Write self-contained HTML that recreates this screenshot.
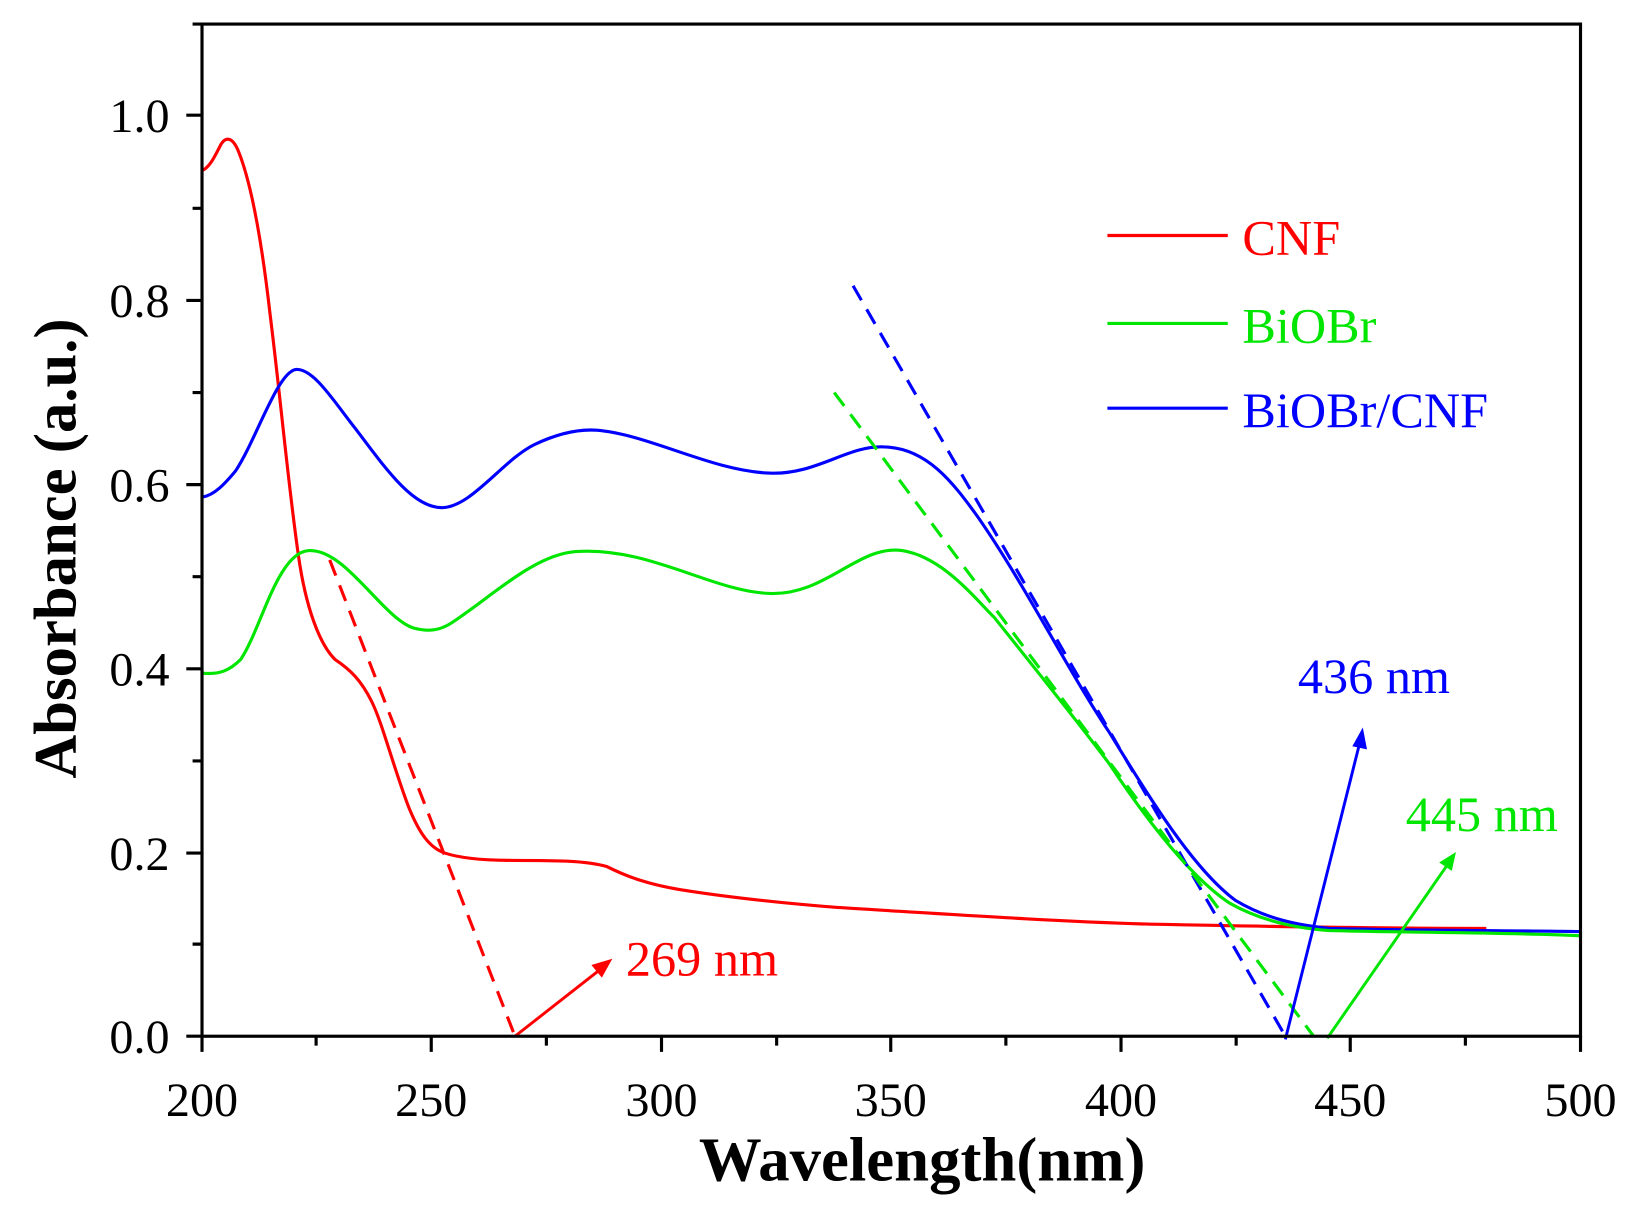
<!DOCTYPE html>
<html><head><style>
html,body{margin:0;padding:0;background:#fff;}
svg{display:block;}
text{font-family:"Liberation Serif",serif;}
</style></head><body>
<svg width="1633" height="1215" viewBox="0 0 1633 1215">
<g transform="scale(1.0467)">
<g fill="none" stroke-width="3">
<path stroke="#ff0000" d="M193,163 C200,160 205,150 210,140 C215,130 222,130 228,145 C240,175 250,230 258,300 C268,380 275,460 285,530 C292,580 305,615 320,630 C335,640 345,650 355,670 C365,690 375,730 390,770 C400,795 410,810 425,815 C440,820 460,822 490,822 C530,822 560,822 580,828 C600,838 620,845 650,850 C700,858 750,863 800,867 C900,873 1000,880 1100,883 C1250,886 1350,887 1420,887"/>
<path stroke="#0000ff" d="M193,475 C205,473 215,462 225,450 C245,420 265,355 283,353 C300,352 320,385 340,410 C370,450 395,485 422,485 C450,485 480,440 510,425 C535,413 555,410 570,411 C620,415 680,450 735,452 C780,454 810,425 845,427 C885,428 910,460 935,495 C980,560 1020,640 1060,700 C1100,765 1140,830 1180,860 C1210,878 1240,884 1270,887 C1350,889 1450,889 1510,890"/>
<path stroke="#00e600" d="M193,643 C210,645 220,640 230,630 C250,600 265,528 295,526 C330,524 365,590 395,600 C410,604 420,602 430,596 C470,570 510,530 550,527 C620,522 680,565 735,567 C790,569 820,520 862,526 C900,532 930,570 950,590 C990,640 1030,690 1060,730 C1100,790 1140,840 1175,863 C1205,880 1240,887 1270,889 C1350,891 1450,891 1510,894"/>
</g>
<g fill="none" stroke-width="3" stroke-dasharray="16,10">
<line x1="315" y1="535" x2="492" y2="990" stroke="#ff0000"/>
<line x1="815" y1="273" x2="1228" y2="990" stroke="#0000ff"/>
<line x1="797" y1="375" x2="1255" y2="990" stroke="#00e600"/>
</g>
<g stroke-width="2.8">
<line x1="492" y1="990" x2="575" y2="925" stroke="#ff0000"/>
<polygon points="585,916 565,922 575,934" fill="#ff0000"/>
<line x1="1228" y1="993" x2="1299" y2="710" stroke="#0000ff"/>
<polygon points="1302,695 1292,713 1306,716" fill="#0000ff"/>
<line x1="1268" y1="992" x2="1383" y2="826" stroke="#00e600"/>
<polygon points="1391,814 1375,824 1387,832" fill="#00e600"/>
</g>
<g stroke="#000" stroke-width="3" fill="none">
<rect x="193" y="23" width="1317" height="967"/>
<path d="M193,990v15M412,990v15M632,990v15M851,990v15M1071,990v15M1290,990v15M1510,990v15
M302,990v9M522,990v9M742,990v9M961,990v9M1181,990v9M1400,990v9
M193,990h-15M193,815h-15M193,639h-15M193,463h-15M193,287h-15M193,110h-15
M193,902h-9M193,727h-9M193,551h-9M193,375h-9M193,199h-9M193,23h-9"/>
</g>
<g font-size="46" fill="#000" text-anchor="end">
<text x="162" y="1006">0.0</text>
<text x="162" y="831">0.2</text>
<text x="162" y="655">0.4</text>
<text x="162" y="479">0.6</text>
<text x="162" y="303">0.8</text>
<text x="162" y="126">1.0</text>
</g>
<g font-size="46" fill="#000" text-anchor="middle">
<text x="193" y="1066">200</text>
<text x="412" y="1066">250</text>
<text x="632" y="1066">300</text>
<text x="851" y="1066">350</text>
<text x="1071" y="1066">400</text>
<text x="1290" y="1066">450</text>
<text x="1510" y="1066">500</text>
</g>
<text x="881" y="1128" font-size="60" font-weight="bold" text-anchor="middle">Wavelength(nm)</text>
<text transform="translate(72,524) rotate(-90)" font-size="58" font-weight="bold" text-anchor="middle">Absorbance (a.u.)</text>
<g stroke-width="3">
<line x1="1058" y1="225" x2="1173" y2="225" stroke="#ff0000"/>
<line x1="1058" y1="309" x2="1173" y2="309" stroke="#00e600"/>
<line x1="1058" y1="390" x2="1173" y2="390" stroke="#0000ff"/>
</g>
<g font-size="48">
<text x="1187" y="243" fill="#ff0000">CNF</text>
<text x="1187" y="327" fill="#00e600">BiOBr</text>
<text x="1187" y="408" fill="#0000ff">BiOBr/CNF</text>
<text x="598" y="932" fill="#ff0000">269 nm</text>
<text x="1240" y="662" fill="#0000ff">436 nm</text>
<text x="1343" y="794" fill="#00e600">445 nm</text>
</g>
</g>
</svg>
</body></html>
